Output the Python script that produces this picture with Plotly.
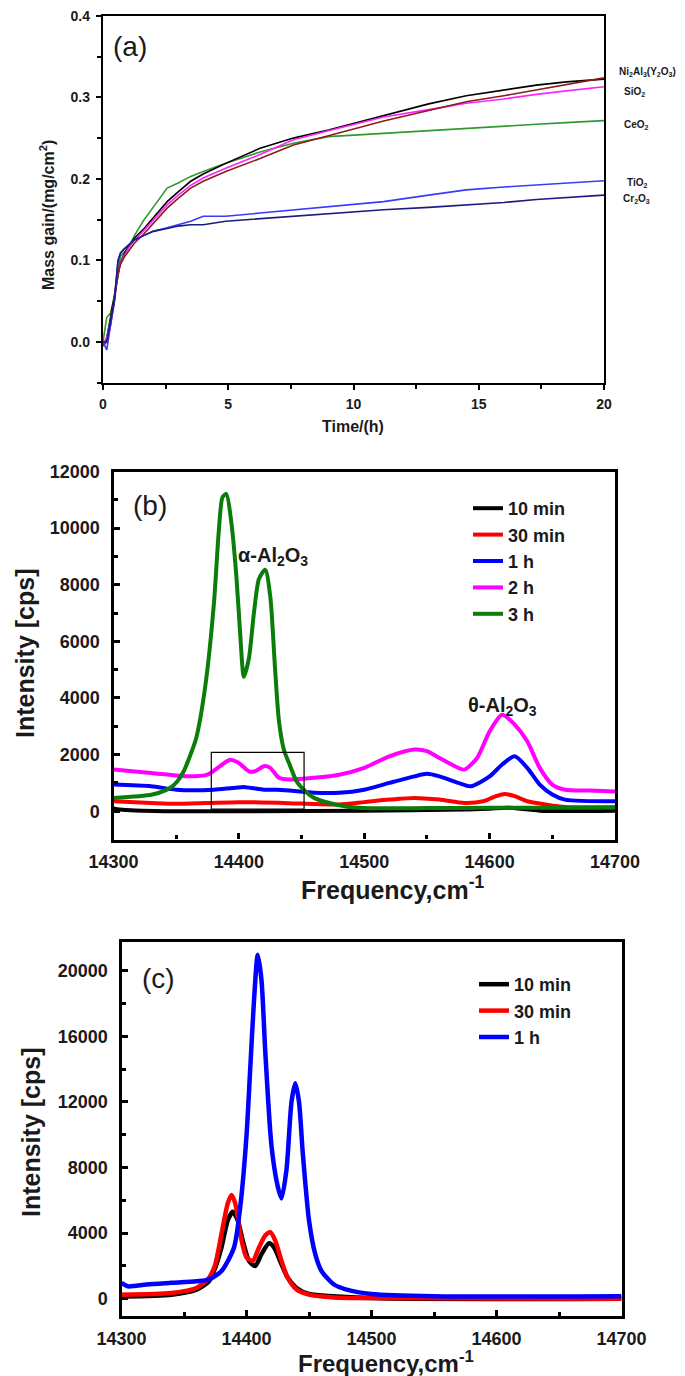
import plotly.graph_objects as go

W, H = 685, 1376
FONT = "Liberation Sans, Arial, sans-serif"

# ---------------- Panel (a) data: mass gain vs time ----------------
T_A = [0, 0.15, 0.3, 0.45, 0.6, 0.7, 0.85, 1.0, 1.25, 1.6, 2.0, 2.56, 3.0, 3.5, 4.0, 4.9,
       6.27, 7.6, 9.0, 11.2, 13.0, 14.5, 16.0, 17.3, 18.5, 20.0]
A_NI2AL3 = [-0.005, 0.005, 0.03, 0.055, 0.085, 0.098, 0.108, 0.116, 0.127, 0.1376, 0.152, 0.172,
            0.184, 0.197, 0.206, 0.219, 0.2376, 0.25, 0.26, 0.278, 0.292, 0.302, 0.309, 0.315,
            0.319, 0.3224]
A_BROWN = [-0.005, 0.0, 0.02, 0.048, 0.085, 0.095, 0.104, 0.111, 0.121, 0.1314, 0.145, 0.164,
           0.176, 0.1886, 0.197, 0.209, 0.225, 0.2416, 0.253, 0.271, 0.284, 0.2947, 0.302, 0.309,
           0.315, 0.324]
A_SIO2 = [-0.005, 0.005, 0.025, 0.05, 0.085, 0.097, 0.106, 0.114, 0.125, 0.1355, 0.149, 0.168,
          0.18, 0.192, 0.201, 0.213, 0.230, 0.248, 0.259, 0.276, 0.285, 0.2927, 0.298, 0.3037,
          0.308, 0.313]
A_CEO2 = [0.0, 0.03, 0.035, 0.055, 0.09, 0.105, 0.11, 0.115, 0.13, 0.148, 0.165, 0.1886, 0.195,
          0.203, 0.209, 0.219, 0.233, 0.2437, 0.2518, 0.256, 0.259, 0.262, 0.265, 0.267, 0.269,
          0.2714]
A_TIO2 = [0.0, -0.01, 0.02, 0.05, 0.1, 0.109, 0.114, 0.118, 0.125, 0.13, 0.1355, 0.14, 0.144,
          0.148, 0.154, 0.154, 0.158, 0.162, 0.166, 0.172, 0.18, 0.1865, 0.19, 0.1927, 0.195,
          0.1976]
A_CR2O3 = [0.0, 0.0, 0.025, 0.05, 0.1, 0.109, 0.114, 0.118, 0.125, 0.13, 0.1355, 0.139, 0.142,
           0.1437, 0.1437, 0.148, 0.151, 0.154, 0.157, 0.162, 0.165, 0.168, 0.171, 0.1747, 0.177,
           0.180]
A_LABELS = ["Ni<sub>2</sub>Al<sub>3</sub>(Y<sub>2</sub>O<sub>3</sub>)", "SiO<sub>2</sub>",
            "CeO<sub>2</sub>", "TiO<sub>2</sub>", "Cr<sub>2</sub>O<sub>3</sub>"]

# ---------------- Panel (b) data ----------------
B_NAMES = ["10 min", "30 min", "1 h", "2 h", "3 h"]
BX_K = [14300, 14305, 14340, 14400, 14500, 14580, 14600, 14615, 14640, 14700]
BY_K = [100, 60, 0, 0, 20, 60, 90, 120, 20, 20]
BX_R = [14300, 14330, 14350, 14400, 14450, 14480, 14500, 14520, 14540, 14560, 14580, 14595,
        14605, 14612, 14620, 14630, 14645, 14660, 14700]
BY_R = [350, 290, 260, 320, 270, 235, 320, 410, 470, 410, 290, 350, 530, 610, 530, 350, 235,
        150, 130]
BX_B = [14300, 14330, 14350, 14380, 14395, 14405, 14420, 14430, 14440, 14460, 14480, 14500,
        14520, 14540, 14550, 14560, 14575, 14585, 14600, 14610, 14620, 14630, 14640, 14650,
        14660, 14700]
BY_B = [940, 880, 760, 760, 820, 850, 760, 760, 730, 650, 650, 760, 1000, 1230, 1320, 1230,
        1000, 880, 1230, 1650, 1940, 1530, 940, 590, 410, 350]
BX_M = [14300, 14330, 14360, 14375, 14385, 14393, 14400, 14408, 14413, 14420, 14425, 14432,
        14440, 14460, 14480, 14500, 14520, 14540, 14550, 14560, 14575, 14580, 14590, 14600,
        14610, 14620, 14630, 14640, 14650, 14660, 14680, 14700]
BY_M = [1470, 1350, 1230, 1290, 1590, 1820, 1700, 1410, 1410, 1590, 1530, 1180, 1120, 1180,
        1290, 1530, 1940, 2180, 2120, 1880, 1530, 1470, 1880, 2820, 3410, 3060, 2470, 1530,
        940, 760, 730, 700]
BX_G = [14300, 14331, 14345, 14351, 14356, 14361, 14366, 14373, 14380, 14384, 14387, 14390,
        14394, 14398, 14401, 14404, 14408, 14412, 14416, 14421, 14425, 14429, 14432, 14436,
        14440, 14446, 14453, 14460, 14477, 14495, 14550, 14600, 14650, 14700]
BY_G = [470, 590, 820, 1060, 1410, 1950, 2590, 4350, 7290, 9900, 11100, 11200, 10200, 8300,
        6300, 4750, 5400, 7000, 8200, 8530, 7600, 4940, 3175, 2150, 1700, 1060, 705, 470, 235,
        120, 110, 120, 120, 140]

# ---------------- Panel (c) data ----------------
C_NAMES = ["10 min", "30 min", "1 h"]
CX_K = [14300, 14340, 14360, 14370, 14375, 14380, 14385, 14389, 14393, 14397, 14402, 14407,
        14412, 14418, 14422, 14428, 14433, 14440, 14450, 14500, 14700]
CY_K = [145, 250, 560, 1070, 1900, 3130, 4780, 5300, 4780, 3550, 2310, 2000, 2720, 3380, 3130,
        2100, 1280, 660, 290, 40, 0]
CX_R = [14300, 14340, 14360, 14370, 14375, 14380, 14385, 14388, 14391, 14395, 14400, 14405,
        14410, 14415, 14419, 14423, 14428, 14433, 14440, 14450, 14470, 14500, 14700]
CY_R = [250, 350, 660, 1280, 2100, 3960, 5810, 6330, 5810, 3960, 2520, 2310, 3130, 3860, 4060,
        3550, 2310, 1280, 560, 250, 80, 40, 0]
CX_B = [14300, 14305, 14320, 14340, 14360, 14370, 14380, 14390, 14395, 14400, 14403, 14406,
        14409, 14412, 14415, 14420, 14425, 14428, 14432, 14436, 14439, 14442, 14445, 14450,
        14455, 14460, 14470, 14480, 14500, 14550, 14700]
CY_B = [970, 760, 870, 970, 1070, 1175, 1690, 3130, 5610, 9940, 14060, 18190, 20970, 19420,
        15090, 9320, 6850, 6120, 7880, 12000, 13140, 12000, 8910, 4780, 2720, 1690, 870, 560,
        290, 150, 150]

fig = go.Figure()

# panel (a)
a_series = [(A_CEO2, "#2e9a2e"), (A_NI2AL3, "#000000"), (A_SIO2, "#ff22ff"),
            (A_BROWN, "#8b1c1c"), (A_TIO2, "#3a3aff"), (A_CR2O3, "#1c1c80")]
for ys, col in a_series:
    fig.add_trace(go.Scatter(x=T_A, y=ys, mode="lines", line=dict(color=col, width=1.6),
                             xaxis="x", yaxis="y", showlegend=False, hoverinfo="skip"))

# panel (b)
b_series = [(BX_K, BY_K, "#000000"), (BX_R, BY_R, "#ff0000"), (BX_B, BY_B, "#0000ff"),
            (BX_M, BY_M, "#ff00ff"), (BX_G, BY_G, "#0a7d0a")]
for (xs, ys, col), name in zip(b_series, B_NAMES):
    fig.add_trace(go.Scatter(x=xs, y=ys, mode="lines", name=name,
                             line=dict(color=col, width=4, shape="spline", smoothing=0.7),
                             xaxis="x2", yaxis="y2", legend="legend"))

# panel (c)
c_series = [(CX_K, CY_K, "#000000"), (CX_R, CY_R, "#ff0000"), (CX_B, CY_B, "#0000ff")]
for (xs, ys, col), name in zip(c_series, C_NAMES):
    fig.add_trace(go.Scatter(x=xs, y=ys, mode="lines", name=name,
                             line=dict(color=col, width=4.5, shape="spline", smoothing=0.7),
                             xaxis="x3", yaxis="y3", legend="legend2"))


def px_x(p):
    return p / W


def px_y(p):
    return 1 - p / H


def axis(domain, rng, dtick, mdtick, anchor, ticks, lw, fs, ticklen, mlen, standoff, fmt):
    return dict(domain=domain, range=rng, dtick=dtick, tick0=0, anchor=anchor, showgrid=False,
                zeroline=False, showline=True, linecolor="black", linewidth=lw, mirror=True,
                ticks=ticks, ticklen=ticklen, tickwidth=lw * 0.8, tickcolor="black",
                tickformat=fmt, exponentformat="none", separatethousands=False,
                tickfont=dict(family=FONT, size=fs, color="#1a1a1a", weight="bold"),
                ticklabelstandoff=standoff, ticklabeloverflow="allow", automargin=False,
                minor=dict(dtick=mdtick, ticks=ticks, ticklen=mlen, tickwidth=lw * 0.8,
                           tickcolor="black", showgrid=False))


fig.update_layout(
    width=W, height=H, autosize=False, margin=dict(l=0, r=0, t=0, b=0, autoexpand=False),
    paper_bgcolor="white", plot_bgcolor="white",
    xaxis=axis([px_x(95), px_x(596)], [0, 20], 5, 2.5, "y", "outside", 2.4, 14, 5, 4, 2, "d"),
    yaxis=axis([px_y(374.5), px_y(7.5)], [-0.05, 0.4005], 0.1, 0.05, "x", "outside", 2.4, 14, 5, 4, 3, ".1f"),
    xaxis2=axis([px_x(105.5), px_x(607)], [14300, 14700], 100, 50, "y2", "inside", 3.2, 18, 6, 4, 4, "d"),
    yaxis2=axis([px_y(831.5), px_y(463.5)], [-1000, 12000], 2000, 1000, "x2", "inside", 3.2, 18, 6, 4, 7, "d"),
    xaxis3=axis([px_x(113.5), px_x(613.5)], [14300, 14700], 100, 50, "y3", "inside", 3.2, 18, 6, 4, 4, "d"),
    yaxis3=axis([px_y(1308), px_y(934)], [-1050, 21750], 4000, 2000, "x3", "inside", 3.2, 18, 6, 4, 7, "d"),
    legend=dict(x=px_x(460), y=px_y(482), xanchor="left", yanchor="top", bgcolor="rgba(0,0,0,0)",
                font=dict(family=FONT, size=18, color="#1a1a1a", weight="bold"), itemwidth=30,
                tracegroupgap=0),
    legend2=dict(x=px_x(466), y=px_y(958), xanchor="left", yanchor="top", bgcolor="rgba(0,0,0,0)",
                 font=dict(family=FONT, size=18, color="#1a1a1a", weight="bold"), itemwidth=30,
                 tracegroupgap=0),
)

ann = []


def paper_text(text, x, y, size, bold=True, angle=0, xanchor="center", yanchor="middle"):
    ann.append(dict(text=text, x=px_x(x), y=px_y(y), xref="paper", yref="paper",
                    showarrow=False, textangle=angle, xanchor=xanchor, yanchor=yanchor,
                    font=dict(family=FONT, size=size, color="#1a1a1a",
                              weight="bold" if bold else "normal")))


# panel labels
paper_text("(a)", 122, 38, 28, bold=False)
paper_text("(b)", 142, 497, 28, bold=False)
paper_text("(c)", 150, 970, 28, bold=False)

# axis titles
paper_text("Mass gain/(mg/cm<sup>2</sup>)", 39, 207, 16, angle=-90)
paper_text("Time/(h)", 345, 418, 16)
paper_text("Intensity [cps]", 17, 646, 25, angle=-90)
paper_text("Frequency,cm<sup>-1</sup>", 384, 880, 25)
paper_text("Intensity [cps]", 23, 1125, 25, angle=-90)
paper_text("Frequency,cm<sup>-1</sup>", 378, 1354, 24)

# right-side labels of panel (a)
label_pos = [(609, 64), (614, 84), (614, 117), (617, 175), (613, 191)]
for lab, (lx, ly) in zip(A_LABELS, label_pos):
    paper_text(lab, lx, ly, 10, xanchor="left")

# phase annotations in panel (b)
ann.append(dict(text="α-Al<sub>2</sub>O<sub>3</sub>", x=14427, y=9000, xref="x2", yref="y2",
                showarrow=False, font=dict(family=FONT, size=20, color="#1a1a1a", weight="bold")))
ann.append(dict(text="θ-Al<sub>2</sub>O<sub>3</sub>", x=14610, y=3700, xref="x2", yref="y2",
                showarrow=False, font=dict(family=FONT, size=20, color="#1a1a1a", weight="bold")))
fig.update_layout(annotations=ann)

fig.add_shape(type="rect", xref="x2", yref="y2", x0=14378, x1=14452, y0=70, y1=2080,
              line=dict(color="black", width=1.2), fillcolor="rgba(0,0,0,0)")

fig.write_html("out.html")
